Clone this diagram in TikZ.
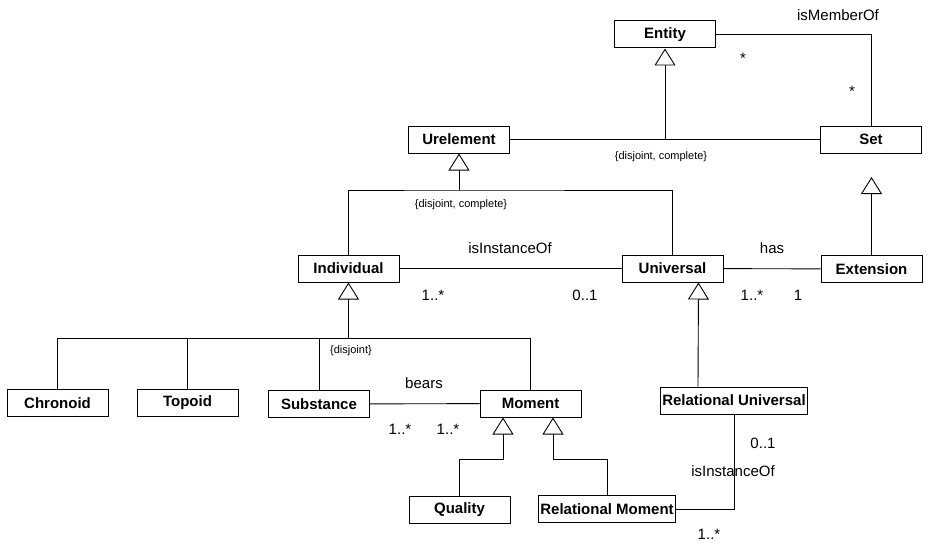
\documentclass[tikz,border=0pt]{standalone}
\usepackage{fontspec}
\setmainfont{Liberation Sans}
\usetikzlibrary{positioning, arrows.meta}
\tikzset{
    % Class boxes
    class/.style={rectangle, draw, line width=1pt, fill=white, minimum width=101pt,
                  minimum height=27pt, inner sep=2pt, font=\fontsize{15}{17}\selectfont\bfseries},
    % Connector styles
    assoc/.style={line width=0.9pt},
    gen/.style={assoc, -{Triangle[open, length=17pt, width=21pt]}},
    % Annotation styles
    role/.style={font=\fontsize{15}{17}\selectfont, inner sep=0pt},
    constraint/.style={font=\fontsize{11}{12}\selectfont, inner sep=0pt},
}

\begin{document}
\begin{tikzpicture}[x=1pt, y=-1pt]
    \useasboundingbox (0,0) rectangle (930,543);

    % Top level
    \node[class] (ent) at (665, 34.5) {Entity};
    \node[class] (urel) at (459, 139.5) {Urelement};
    \node[class] (set) at (871, 139.5) {Set};

    \coordinate (j1) at (ent.south |- urel.east);
    \draw[assoc] (urel.east) -- (j1) -- (set.west);
    \draw[gen] (j1) -- (ent.south);
    \node[constraint] (c1) at (661, 157) {\{disjoint, complete\}};

    \draw[assoc] (ent.east) -| (set.north);
    \node[role] (lmember) at (838, 15) {isMemberOf};
    \node[role] (m1) at (743, 58) {*};
    \node[role] (m2) at (852, 91) {*};

    % Individual / Universal
    \node[class] (indiv) at (348.5, 268.5) {Individual};
    \node[class] (univ) at (672.5, 268.5) {Universal};
    \node[class] (ext) at (871.5, 269) {Extension};

    \coordinate (j2) at (urel.south |- 0,190);
    \draw[gen] (j2) -- (urel.south);
    \draw[assoc] (indiv.north) |- (j2) -| (univ.north);
    \node[constraint] (c2) at (461, 205) {\{disjoint, complete\}};

    \draw[gen] (ext.north) -- (ext.north |- 0,177);

    \draw[assoc] (indiv) -- (univ);
    \node[role] (linst1) at (510, 248) {isInstanceOf};
    \node[role] (m3) at (433, 295) {1..*};
    \node[role] (m4) at (585, 295) {0..1};

    \draw[assoc] (univ) -- (ext);
    \node[role] (lhas) at (772, 248) {has};
    \node[role] (m5) at (752, 295) {1..*};
    \node[role] (m6) at (798, 295) {1};

    % Kinds of individual
    \node[class] (chron) at (57.5, 403) {Chronoid};
    \node[class] (topo) at (187.5, 403) {Topoid};
    \node[class] (subst) at (319, 404) {Substance};
    \node[class] (mom) at (530.5, 403.5) {Moment};

    \coordinate (j3) at (indiv.south |- 0,338);
    \draw[gen] (j3) -- (indiv.south);
    \draw[assoc] (chron.north) |- (mom.north |- j3) -- (mom.north);
    \draw[assoc] (topo.north) -- (topo.north |- j3);
    \draw[assoc] (subst.north) -- (subst.north |- j3);
    \node[constraint] (c3) at (351, 351) {\{disjoint\}};

    \draw[assoc] (subst) -- (mom);
    \node[role] (lbears) at (424, 383) {bears};
    \node[role] (m7) at (400, 429) {1..*};
    \node[role] (m8) at (448, 429) {1..*};

    % Relational universal
    \node[class, minimum width=147pt] (reluniv) at (734, 400.5) {Relational Universal};
    \draw[gen] ([xshift=-36pt]reluniv.north) -- ([xshift=26pt]univ.south);

    % Kinds of moment
    \node[class] (qual) at (459.5, 509.5) {Quality};
    \node[class, minimum width=136pt] (relmom) at (607, 509) {Relational Moment};

    \coordinate (t1) at ([xshift=-27.5pt]mom.south);
    \coordinate (t2) at ([xshift=22.5pt]mom.south);
    \draw[gen] (qual.north) |- (t1 |- 0,459) -- (t1);
    \draw[gen] (relmom.north) |- (t2 |- 0,459) -- (t2);

    \draw[assoc] (relmom.east) -| (reluniv.south);
    \node[role] (linst2) at (733, 471) {isInstanceOf};
    \node[role] (m9) at (763, 443) {0..1};
    \node[role] (m10) at (709, 534) {1..*};
\end{tikzpicture}
\end{document}
